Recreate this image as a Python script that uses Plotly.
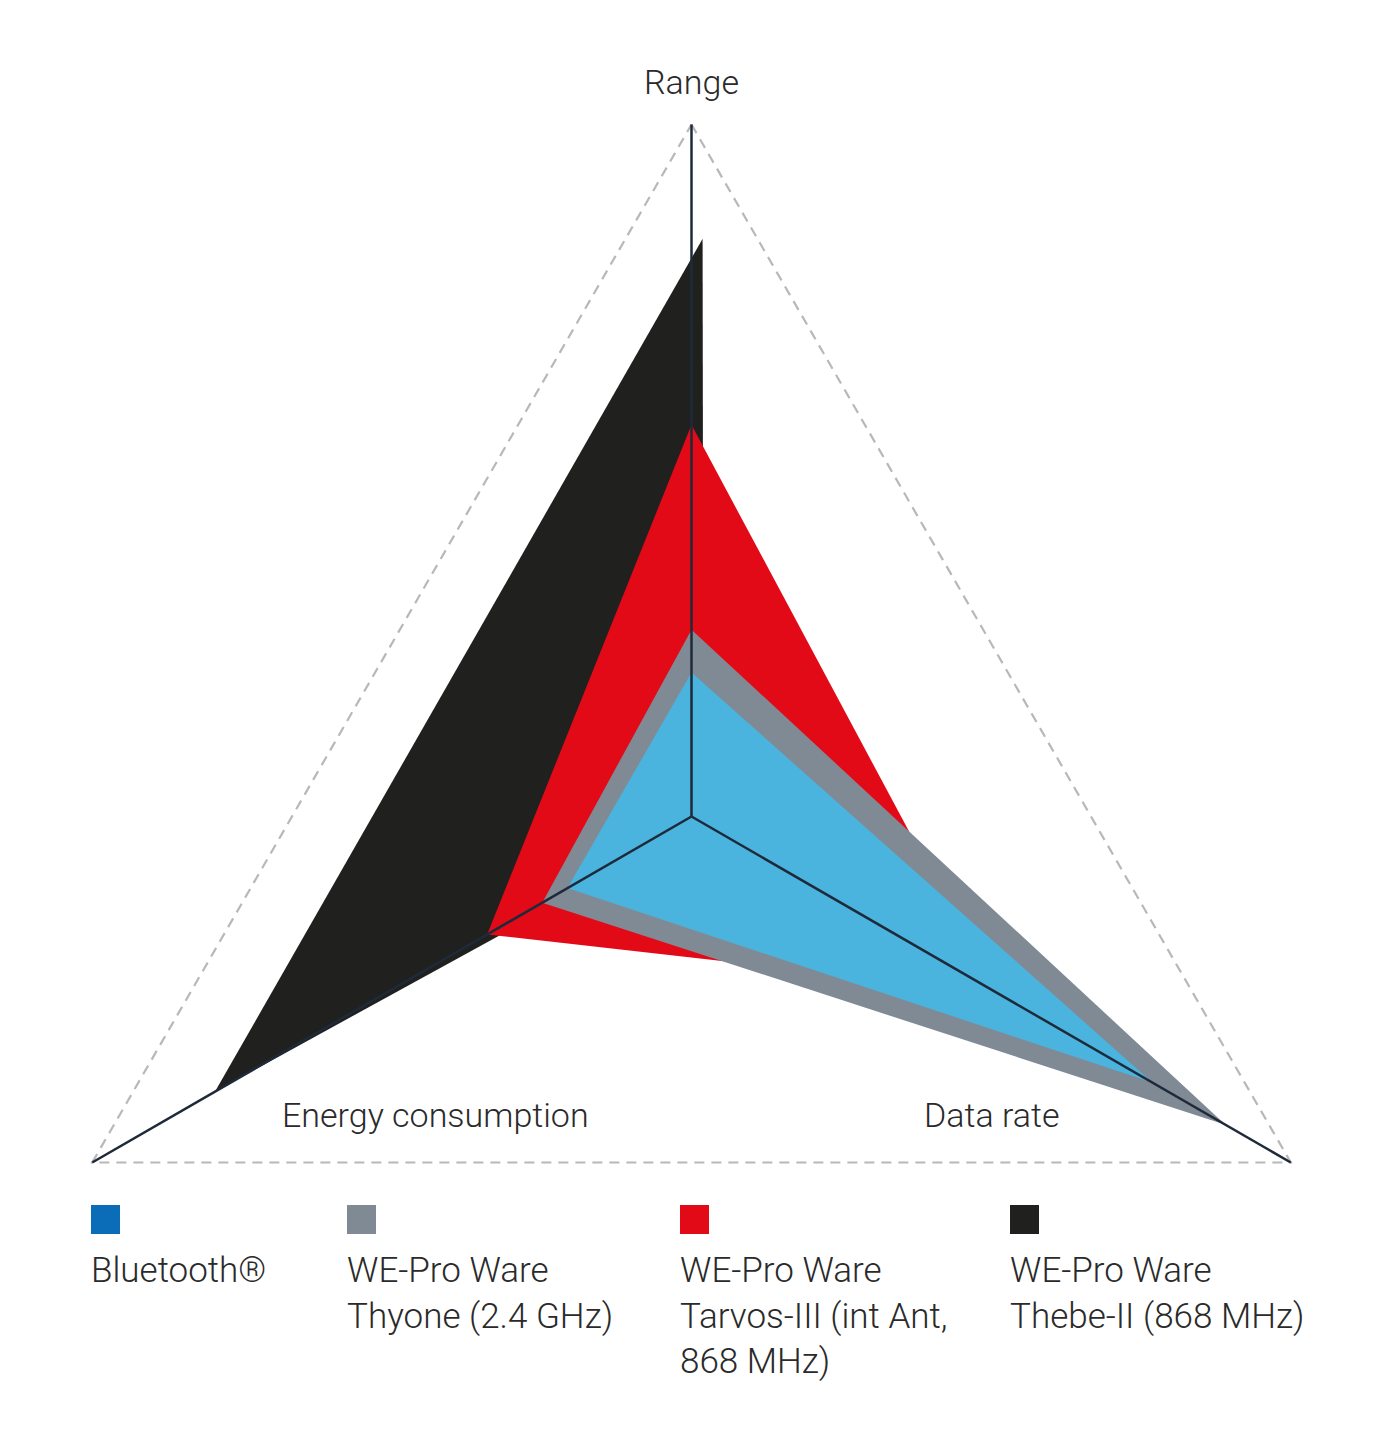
import numpy as np
import plotly.graph_objects as go

# ---------------- data ----------------
categories = ["Range", "Data rate", "Energy consumption"]
series_names = [
    "Bluetooth®",
    "WE-Pro Ware<br>Thyone (2.4 GHz)",
    "WE-Pro Ware<br>Tarvos-III (int Ant,<br>868 MHz)",
    "WE-Pro Ware<br>Thebe-II (868 MHz)",
]
bluetooth = [0.208, 0.769, 0.207]
thyone = [0.270, 0.891, 0.249]
tarvos = [0.566, 0.506, 0.341]
thebe = [0.835, 0.02, 0.795]

# ---------------- style / positions ----------------
axis_angle = {"Range": 90, "Data rate": -30, "Energy consumption": 210}
fill_colors = ["#4AB4DE", "#808A95", "#E30A17", "#20201F"]
legend_colors = ["#0B6DB8", "#808A95", "#E30A17", "#20201F"]
angle_offsets = [[0, 0, 0], [0, 0, 0], [0, 0, 0], [-1.1, 0, 0]]
spoke_color = "#1E2A3A"
dash_color = "#B8B8B8"
text_color = "#2A2A2A"
FONT = "Roboto"

PAGE_OFF = 8                 # default body margin of the html page
W, H = 1383 - 2 * PAGE_OFF, 1440 - 2 * PAGE_OFF
R_PX = 692.0                 # pixels per radial unit
CX, CY = 691.5 - PAGE_OFF, 816.5 - PAGE_OFF   # chart centre in figure pixels


def to_xy(r, deg):
    a = np.deg2rad(np.asarray(deg, dtype=float))
    r = np.asarray(r, dtype=float)
    return r * np.cos(a), r * np.sin(a)


fig = go.Figure()
thetas = [axis_angle[c] for c in categories]

# dashed outer triangle (r = 1 on every axis)
x, y = to_xy([1, 1, 1, 1], thetas + [thetas[0]])
fig.add_trace(go.Scatter(x=x, y=y, mode="lines",
                         line=dict(color=dash_color, width=2.2, dash="10px,7px"),
                         hoverinfo="skip", showlegend=False))

# filled series, back to front
all_series = [bluetooth, thyone, tarvos, thebe]
for idx in [3, 2, 1, 0]:
    vals = all_series[idx]
    th = [thetas[i] + angle_offsets[idx][i] for i in range(len(categories))]
    x, y = to_xy(vals + [vals[0]], th + [th[0]])
    fig.add_trace(go.Scatter(x=x, y=y, mode="lines", fill="toself",
                             fillcolor=fill_colors[idx],
                             line=dict(width=0, color=fill_colors[idx]),
                             name=series_names[idx].replace("<br>", " "),
                             showlegend=False))

# spokes
sx, sy = [], []
for t in thetas:
    x, y = to_xy([0, 1], [t, t])
    sx += list(x) + [None]
    sy += list(y) + [None]
fig.add_trace(go.Scatter(x=sx, y=sy, mode="lines",
                         line=dict(color=spoke_color, width=2.5),
                         hoverinfo="skip", showlegend=False))

fig.update_layout(
    width=W, height=H,
    margin=dict(l=0, r=0, t=0, b=0),
    paper_bgcolor="white", plot_bgcolor="white",
    showlegend=False,
    xaxis=dict(visible=False, range=[-CX / R_PX, (W - CX) / R_PX], fixedrange=True),
    yaxis=dict(visible=False, range=[-(H - CY) / R_PX, CY / R_PX], fixedrange=True),
)

annotations = []
label_pos = {"Range": (691, 82), "Energy consumption": (435, 1115), "Data rate": (992, 1115)}
for c in categories:
    px, py = label_pos[c]
    annotations.append(dict(
        x=(px - PAGE_OFF) / W, y=1 - (py - PAGE_OFF) / H, xref="paper", yref="paper",
        text=c, showarrow=False, xanchor="center", yanchor="middle",
        font=dict(family=FONT, size=34, color=text_color, weight=300)))

leg_x = [91, 347, 680, 1010]
shapes = []
for i, name in enumerate(series_names):
    x0 = leg_x[i] - PAGE_OFF
    shapes.append(dict(type="rect", xref="paper", yref="paper",
                       x0=x0 / W, x1=(x0 + 29) / W,
                       y0=1 - (1234 - PAGE_OFF) / H, y1=1 - (1205 - PAGE_OFF) / H,
                       fillcolor=legend_colors[i], line=dict(width=0)))
    annotations.append(dict(
        x=(x0 - 2) / W, y=1 - (1248 - PAGE_OFF) / H, xref="paper", yref="paper",
        text=name, showarrow=False, xanchor="left", yanchor="top", align="left",
        font=dict(family=FONT, size=35, color=text_color, weight=300)))

fig.update_layout(annotations=annotations, shapes=shapes)
fig.write_html("out.html")
